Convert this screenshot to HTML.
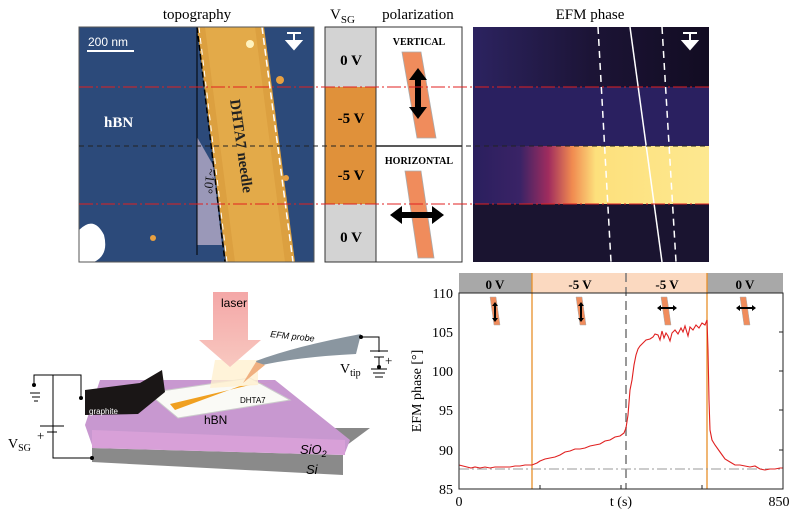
<!DOCTYPE html>
<html><head><meta charset="utf-8"><style>
html,body{margin:0;padding:0;background:#fff;width:800px;height:514px;overflow:hidden}
svg{display:block}
text{font-family:"Liberation Serif",serif}
text.s,.s text,tspan.s{font-family:"Liberation Sans",sans-serif}
</style></head><body>
<svg width="800" height="514" viewBox="0 0 800 514" xmlns="http://www.w3.org/2000/svg">
<defs>
<linearGradient id="efm" x1="0" x2="1" y1="0" y2="0">
<stop offset="0" stop-color="#2a1f5e"/><stop offset="0.2" stop-color="#3a2366"/><stop offset="0.32" stop-color="#a02c5e"/><stop offset="0.42" stop-color="#f08a50"/><stop offset="0.52" stop-color="#fde07c"/><stop offset="1" stop-color="#fde890"/>
</linearGradient>
<linearGradient id="efmTop" x1="0" x2="1"><stop offset="0" stop-color="#2c2360"/><stop offset="0.5" stop-color="#1c1436"/><stop offset="1" stop-color="#120c22"/></linearGradient>
<linearGradient id="laser" x1="0" y1="0" x2="0" y2="1"><stop offset="0" stop-color="#f4a7a7"/><stop offset="1" stop-color="#f8c8c0"/></linearGradient>
</defs>
<!-- titles -->
<text x="197" y="19" font-size="15" text-anchor="middle">topography</text>
<text x="330" y="19" font-size="15">V<tspan font-size="11" dy="4">SG</tspan></text>
<text x="418" y="19" font-size="15" text-anchor="middle">polarization</text>
<text x="590" y="19" font-size="15" text-anchor="middle">EFM phase</text>

<!-- topography -->
<rect x="79" y="27" width="235" height="235" fill="#2c4a7a"/>
<polygon points="197,27 264,27 295,262 226,262" fill="#dca040"/>
<polygon points="205,27 255,27 285,262 235,262" fill="#e8b050" opacity="0.6"/>
<polygon points="197,137 213,165 222,245 197,245" fill="#9a98b8"/>
<path d="M79,230 q15,-15 25,5 q5,20 -10,27 l-15,0z" fill="#fff"/>
<circle cx="250" cy="44" r="4" fill="#fff3c0"/>
<circle cx="280" cy="80" r="4" fill="#e8a040"/><circle cx="286" cy="178" r="3" fill="#e8a040"/>
<circle cx="153" cy="238" r="3" fill="#e8a040"/><circle cx="234" cy="108" r="3" fill="#f0c060"/>
<line x1="197" y1="27" x2="225" y2="262" stroke="#000" stroke-width="1.5" stroke-dasharray="6,3"/>
<line x1="199" y1="27" x2="227" y2="262" stroke="#fff" stroke-width="1" stroke-dasharray="6,5"/>
<line x1="262" y1="27" x2="293" y2="262" stroke="#fff" stroke-width="1.5" stroke-dasharray="7,4"/>
<line x1="197" y1="27" x2="197" y2="255" stroke="#000" stroke-width="1"/>
<line x1="87" y1="51" x2="134" y2="51" stroke="#fff" stroke-width="2"/>
<text class="s" x="88" y="46" font-size="12" fill="#fff">200 nm</text>
<text x="104" y="127" font-size="15" fill="#fff" font-weight="bold">hBN</text>
<text transform="translate(230,100) rotate(82)" font-size="15" font-weight="bold" fill="#222">DHTA7 needle</text>
<text transform="translate(207,168) rotate(98)" font-size="13" fill="#111">~10°</text>
<path d="M287,33 h14 M294,33 v8 M287,41 h14 l-7,8 z" stroke="#fff" stroke-width="2" fill="#fff"/>
<rect x="79" y="27" width="235" height="235" fill="none" stroke="#555" stroke-width="1"/>

<!-- VSG column -->
<rect x="325" y="27" width="51" height="60" fill="#d3d3d3"/>
<rect x="325" y="87" width="51" height="117" fill="#e0913a"/>
<rect x="325" y="204" width="51" height="58" fill="#d3d3d3"/>
<rect x="325" y="27" width="137" height="235" fill="none" stroke="#333"/>
<line x1="376" y1="27" x2="376" y2="262" stroke="#333"/>
<text x="351" y="65" font-size="15" font-weight="bold" text-anchor="middle">0 V</text>
<text x="351" y="123" font-size="15" font-weight="bold" text-anchor="middle">-5 V</text>
<text x="351" y="180" font-size="15" font-weight="bold" text-anchor="middle">-5 V</text>
<text x="351" y="242" font-size="15" font-weight="bold" text-anchor="middle">0 V</text>
<!-- polarization -->
<line x1="376" y1="146" x2="462" y2="146" stroke="#222" stroke-width="1.5"/>
<text x="419" y="45" font-size="10" font-weight="bold" text-anchor="middle">VERTICAL</text>
<text x="419" y="164" font-size="10" font-weight="bold" text-anchor="middle">HORIZONTAL</text>
<polygon points="402,52 421,52 436,138 417,138" fill="#f08c5c" stroke="#aaa" stroke-width="0.8"/>
<polygon points="405,171 421,171 434,258 418,258" fill="#f08c5c" stroke="#aaa" stroke-width="0.8"/>
<path d="M418,68 l-9,12 h6 v27 h-6 l9,12 l9,-12 h-6 v-27 h6z" fill="#000"/>
<path d="M390,215 l12,-9 v6 h30 v-6 l12,9 l-12,9 v-6 h-30 v6z" fill="#000"/>

<!-- EFM -->
<rect x="473" y="27" width="236" height="235" fill="url(#efmTop)"/>
<rect x="473" y="87" width="236" height="59" fill="#2a2060"/>
<rect x="473" y="146" width="236" height="58" fill="url(#efm)"/>
<rect x="473" y="204" width="236" height="58" fill="#1a1430"/>
<line x1="598" y1="27" x2="611" y2="262" stroke="#fff" stroke-width="1.5" stroke-dasharray="7,5"/>
<line x1="662" y1="27" x2="676" y2="262" stroke="#fff" stroke-width="1.5" stroke-dasharray="7,5"/>
<line x1="630" y1="27" x2="662" y2="262" stroke="#fff" stroke-width="1.5"/>
<path d="M683,33 h14 M690,33 v8 M683,41 h14 l-7,8 z" stroke="#fff" stroke-width="2" fill="#fff"/>

<!-- horizontal lines across -->
<line x1="79" y1="87" x2="709" y2="87" stroke="#e02020" stroke-width="1" stroke-dasharray="14,3,2,3"/>
<line x1="79" y1="204" x2="709" y2="204" stroke="#e02020" stroke-width="1" stroke-dasharray="14,3,2,3"/>
<line x1="79" y1="146" x2="709" y2="146" stroke="#222" stroke-width="1" stroke-dasharray="5,4"/>

<!-- schematic -->
<polygon points="92,448 118,428 370,428 343,448" fill="#888"/>
<polygon points="92,448 343,455 343,475 92,462" fill="#8a8a8a"/>
<polygon points="85,425 100,380 275,380 350,440 345,453 92,445" fill="#c898d0"/>
<polygon points="92,430 345,440 345,455 92,448" fill="#d8a0d8"/>
<polygon points="148,393 250,378 290,400 178,418" fill="#fafaf6" stroke="#ccc"/>
<polygon points="85,390 140,383 162,370 165,392 138,414 85,415" fill="#1a1616"/>
<polygon points="170,404 250,385 275,382 240,386 175,410" fill="#f0a020"/>
<polygon points="215,360 258,360 258,385 210,388" fill="#fff0d0" opacity="0.8"/>
<polygon points="213,292 248,292 248,340 261,340 230,367 199,340 213,340" fill="url(#laser)"/>
<path d="M256,361 q40,-15 105,-27 l-5,20 q-60,3 -98,12z" fill="#8a96a0"/>
<polygon points="256,362 265,365 243,383" fill="#f0b080"/>
<g class="s">
<text x="221" y="307" font-size="12">laser</text>
<text transform="translate(270,337) rotate(6)" font-size="9" font-style="italic">EFM probe</text>
<text x="89" y="414" font-size="8" fill="#fff">graphite</text>
<text x="240" y="403" font-size="8">DHTA7</text>
<text x="204" y="424" font-size="12">hBN</text>
<text x="300" y="454" font-size="13" font-style="italic">SiO<tspan font-size="9" dy="3">2</tspan></text>
<text x="306" y="474" font-size="13" font-style="italic">Si</text>
</g>
<!-- circuits -->
<g stroke="#000" stroke-width="1" fill="none">
<path d="M34,385 v-10 h47 v23"/><path d="M53,375 v83 h40"/><path d="M30,393 h10 M32,397 h8 M34,401 h4"/>
<path d="M40,426 h24 M47,432 h10"/>
<path d="M361,337 h18 v15 M370,351 h18 M374,357 h10 M379,357 v10 M375,377 h8 M373,373 h12 M371,369 h16"/>
</g>
<circle cx="81" cy="398" r="2"/><circle cx="92" cy="458" r="2"/><circle cx="361" cy="337" r="2"/><circle cx="34" cy="385" r="2"/><circle cx="379" cy="367" r="2"/>
<text x="8" y="448" font-size="14">V<tspan font-size="10" dy="3">SG</tspan></text>
<text x="37" y="440" font-size="13">+</text>
<text x="340" y="373" font-size="14">V<tspan font-size="10" dy="3">tip</tspan></text>
<text x="385" y="365" font-size="13">+</text>

<!-- plot -->
<rect x="459" y="273" width="73" height="20" fill="#a8a8a8"/>
<rect x="532" y="273" width="175" height="20" fill="#fbd9c0"/>
<rect x="707" y="273" width="76" height="20" fill="#a8a8a8"/>
<text x="495" y="289" font-size="13" font-weight="bold" text-anchor="middle">0 V</text>
<text x="580" y="289" font-size="13" font-weight="bold" text-anchor="middle">-5 V</text>
<text x="667" y="289" font-size="13" font-weight="bold" text-anchor="middle">-5 V</text>
<text x="745" y="289" font-size="13" font-weight="bold" text-anchor="middle">0 V</text>
<line x1="532" y1="273" x2="532" y2="489" stroke="#e8902a" stroke-width="1.3"/>
<line x1="707" y1="273" x2="707" y2="489" stroke="#e8902a" stroke-width="1.3"/>
<line x1="626" y1="273" x2="626" y2="489" stroke="#777" stroke-width="1.5" stroke-dasharray="9,5"/>
<line x1="459" y1="469" x2="783" y2="469" stroke="#999" stroke-width="1" stroke-dasharray="10,3,2,3"/>
<g fill="#f08c5c" stroke="#aaa" stroke-width="0.5">
<polygon points="490,297 496,297 500,325 494,325"/><polygon points="576,297 582,297 586,325 580,325"/>
<polygon points="661,297 667,297 671,325 665,325"/><polygon points="740,297 746,297 750,325 744,325"/>
</g>
<g fill="#000">
<path d="M495,302 l-3,4 h2 v12 h-2 l3,4 l3,-4 h-2 v-12 h2z"/><path d="M581,302 l-3,4 h2 v12 h-2 l3,4 l3,-4 h-2 v-12 h2z"/>
<path d="M657,308 l4,-3 v2 h12 v-2 l4,3 l-4,3 v-2 h-12 v2z"/><path d="M736,308 l4,-3 v2 h12 v-2 l4,3 l-4,3 v-2 h-12 v2z"/>
</g>
<polyline fill="none" stroke="#e02020" stroke-width="1.1" points="459,465 463,466 467,467 471,468 475,467 480,468 485,467 490,468 495,467 500,467 505,467 510,467 515,466 520,466 525,465 532,465 537,463 540,461 545,459 550,458 555,457 560,455 565,452 570,451 575,449 580,449 585,448 590,446 595,445 600,444 605,441 610,440 615,437 620,436 624,433 626,428 628,415 630,390 632,380 634,365 636,355 638,349 640,346 643,343 646,340 650,339 653,337 655,334 658,335 660,340 662,331 664,338 666,333 668,336 670,341 672,333 675,330 678,334 681,328 683,332 685,326 688,336 690,327 693,330 696,325 699,328 702,323 705,325 707,320 708,350 709,400 710,430 712,440 715,445 720,452 725,459 730,462 735,465 740,465 745,466 750,467 755,466 760,469 765,470 770,469 775,469 780,468 783,468"/>
<rect x="459" y="293" width="324" height="196" fill="none" stroke="#222" stroke-width="1"/>
<g stroke="#222">
<line x1="783" y1="332" x2="779" y2="332"/><line x1="783" y1="371" x2="779" y2="371"/><line x1="783" y1="410" x2="779" y2="410"/><line x1="783" y1="450" x2="779" y2="450"/>
<line x1="540" y1="489" x2="540" y2="485"/><line x1="621" y1="489" x2="621" y2="485"/><line x1="702" y1="489" x2="702" y2="485"/>
</g>
<g font-size="14" text-anchor="end">
<text x="453" y="298">110</text><text x="453" y="337">105</text><text x="453" y="376">100</text>
<text x="453" y="415">95</text><text x="453" y="455">90</text><text x="453" y="494">85</text>
</g>
<text x="459" y="506" font-size="14" text-anchor="middle">0</text>
<text x="621" y="506" font-size="14" text-anchor="middle">t (s)</text>
<text x="779" y="506" font-size="14" text-anchor="middle">850</text>
<text transform="translate(421,391) rotate(-90)" font-size="14" text-anchor="middle">EFM phase [°]</text>
</svg>
</body></html>
